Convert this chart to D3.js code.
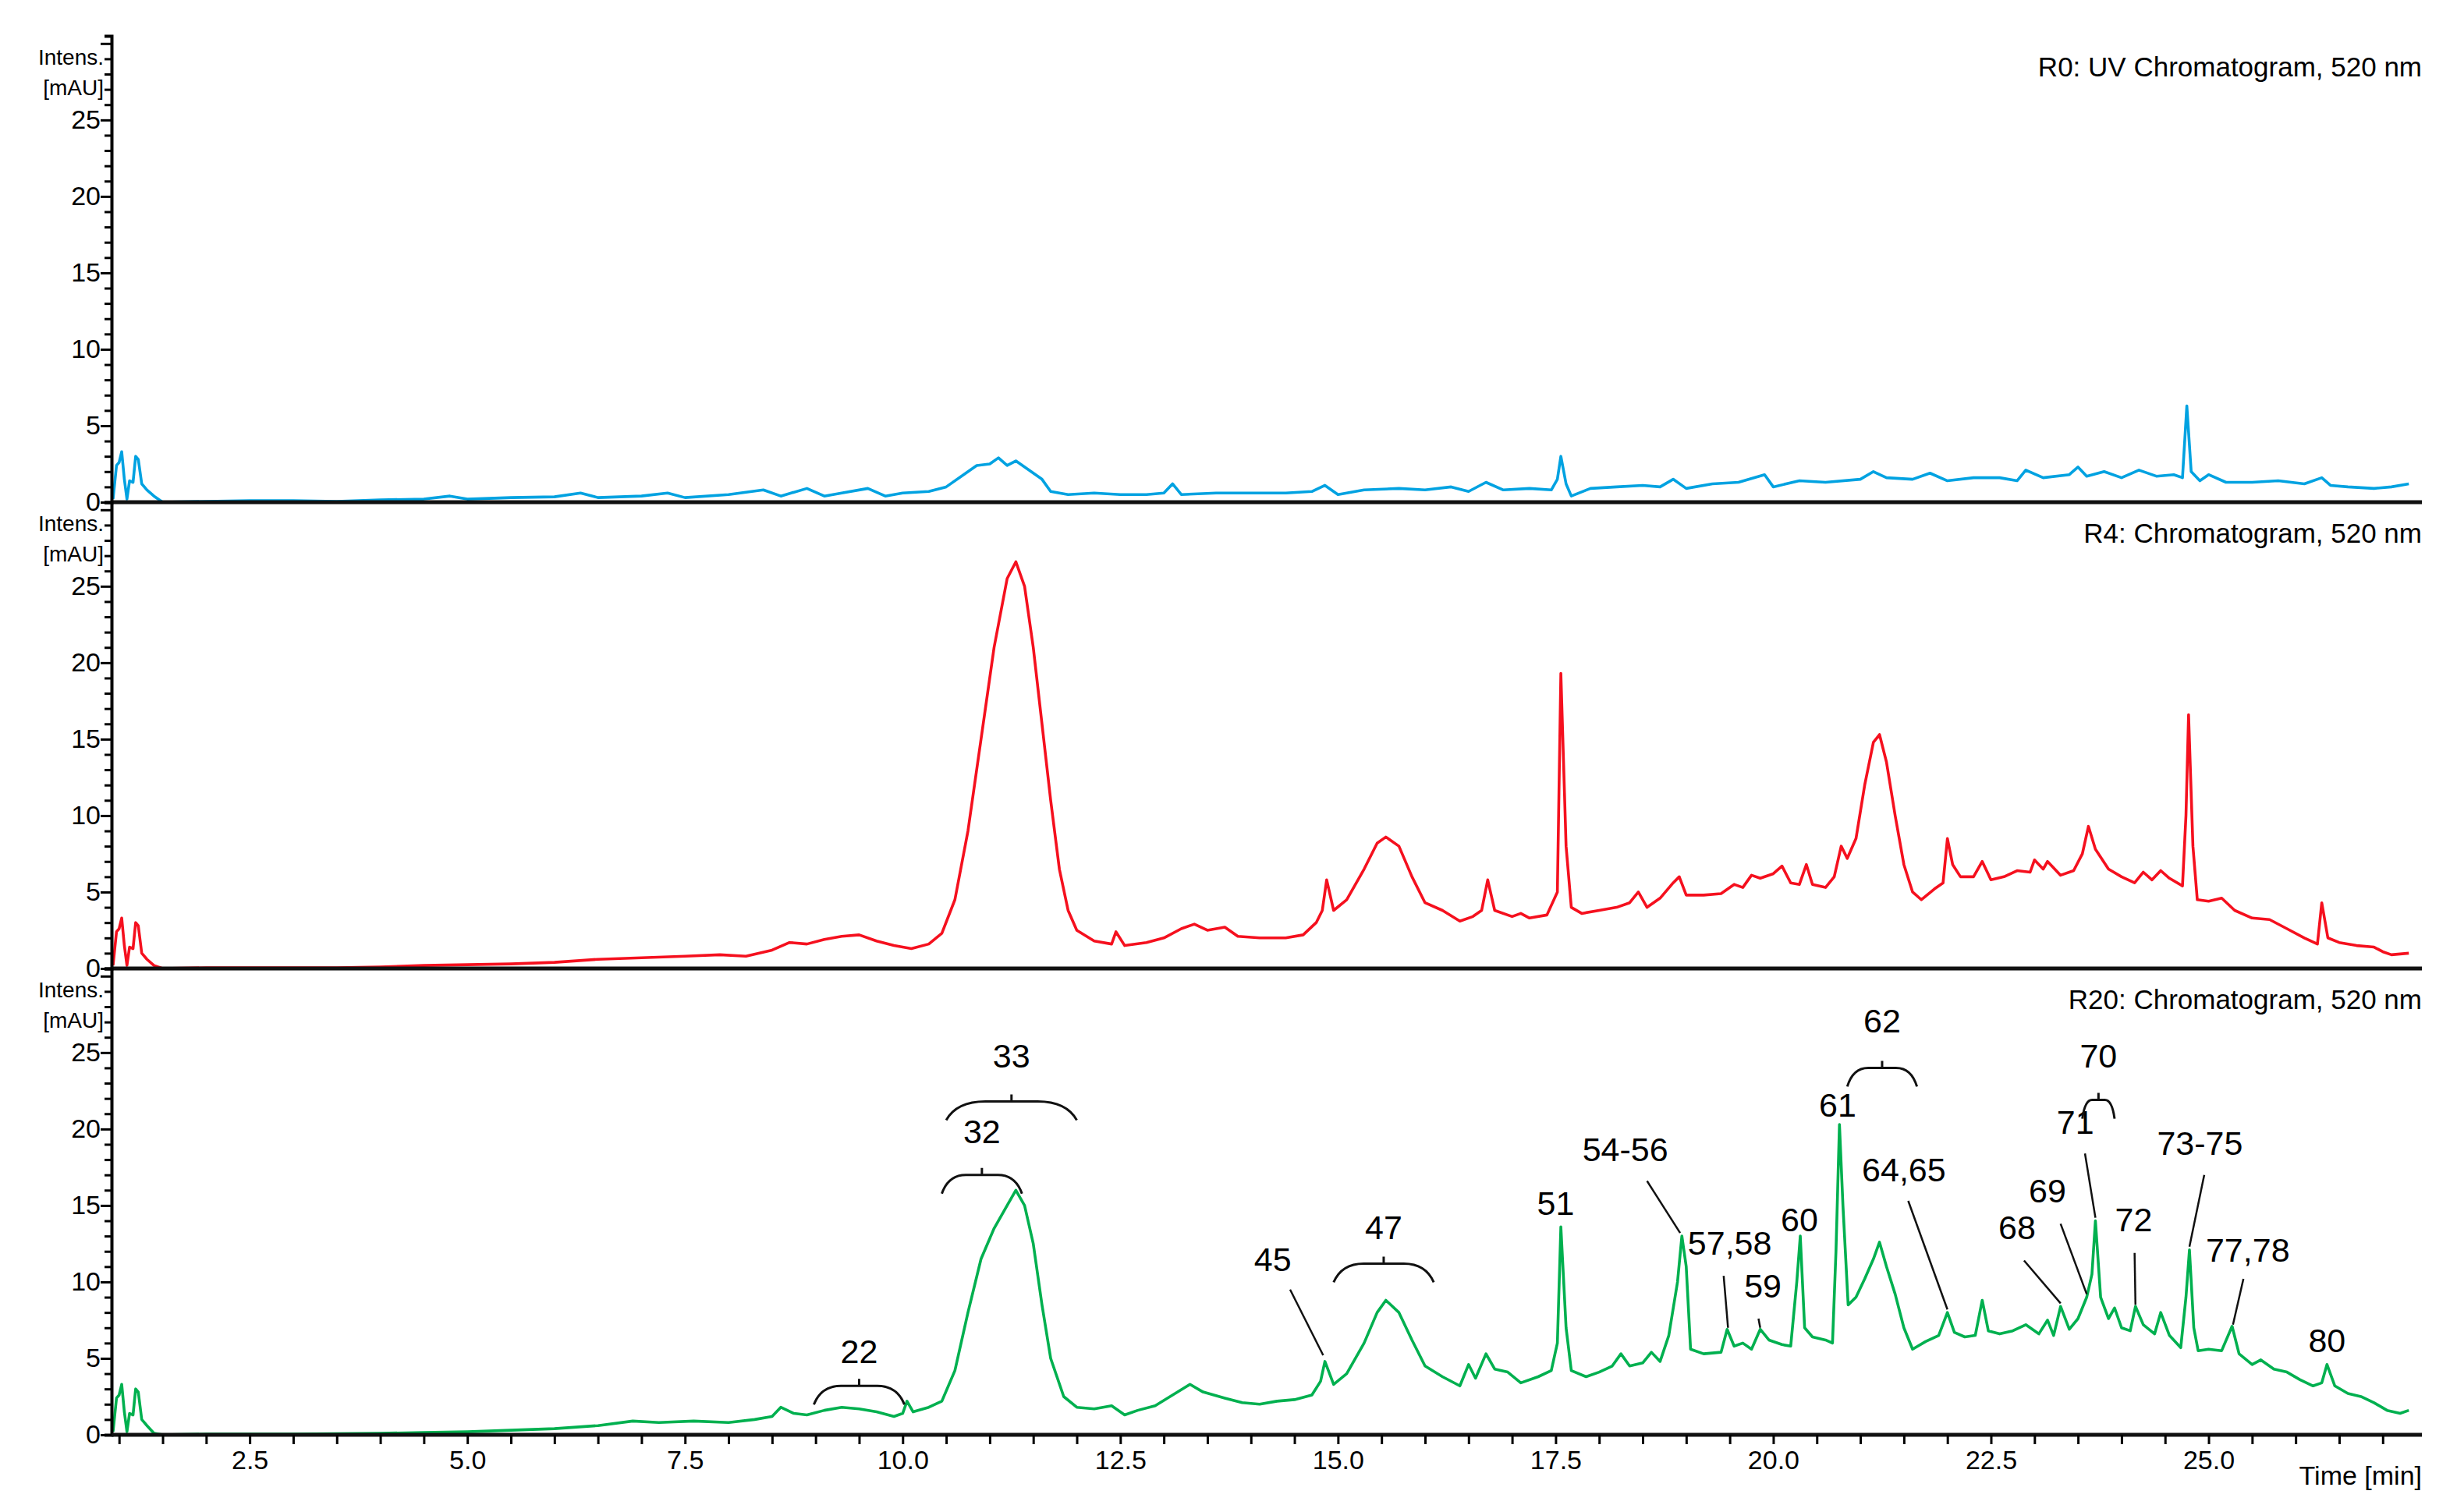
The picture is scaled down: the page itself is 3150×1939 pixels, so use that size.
<!DOCTYPE html>
<html>
<head>
<meta charset="utf-8">
<script src="https://cdn.jsdelivr.net/npm/d3@7"></script>
<style>
  body { margin: 0; background: #fff; }
  svg { font-family: 'Liberation Sans', Arial, sans-serif; }
</style>
</head>
<body>
<svg id="chart" width="3150" height="1939"></svg>
<script>
// R0 trace [time, mAU]
const r0Data = [
  [0.93, 0.2], [0.97, 2.4], [1.0, 2.6], [1.03, 3.3], [1.06, 1.5], [1.09, 0.2], [1.12, 1.4], [1.16, 1.3], [1.19, 3.0], [1.22, 2.8], [1.26, 1.2], [1.32, 0.8], [1.4, 0.4], [1.5, 0.0],
  [2.0, 0.05], [2.5, 0.1], [3.0, 0.1], [3.5, 0.05], [4.0, 0.15], [4.5, 0.2], [4.8, 0.4], [5.0, 0.2], [5.5, 0.3], [6.0, 0.35], [6.3, 0.6], [6.5, 0.3], [7.0, 0.4], [7.3, 0.6], [7.5, 0.3],
  [8.0, 0.5], [8.4, 0.8], [8.6, 0.4], [8.9, 0.9], [9.1, 0.4], [9.3, 0.6], [9.6, 0.9], [9.8, 0.4], [10.0, 0.6], [10.3, 0.7], [10.5, 1.0], [10.7, 1.8], [10.85, 2.4], [11.0, 2.5], [11.1, 2.9], [11.2, 2.4], [11.3, 2.7], [11.45, 2.1], [11.6, 1.5], [11.7, 0.7],
  [11.9, 0.5], [12.2, 0.6], [12.5, 0.5], [12.8, 0.5], [13.0, 0.6], [13.1, 1.2], [13.2, 0.5], [13.6, 0.6], [14.0, 0.6], [14.4, 0.6], [14.7, 0.7], [14.85, 1.1], [15.0, 0.5], [15.3, 0.8], [15.7, 0.9], [16.0, 0.8], [16.3, 1.0], [16.5, 0.7], [16.7, 1.3], [16.9, 0.8], [17.2, 0.9], [17.45, 0.8],
  [17.52, 1.5], [17.56, 3.0], [17.62, 1.2], [17.68, 0.4], [17.9, 0.9], [18.2, 1.0], [18.5, 1.1], [18.7, 1.0], [18.85, 1.5], [19.0, 0.9], [19.3, 1.2], [19.6, 1.3], [19.9, 1.8], [20.0, 1.0], [20.3, 1.4], [20.6, 1.3], [21.0, 1.5], [21.15, 2.0], [21.3, 1.6], [21.6, 1.5], [21.8, 1.9], [22.0, 1.4],
  [22.3, 1.6], [22.6, 1.6], [22.8, 1.4], [22.9, 2.1], [23.1, 1.6], [23.4, 1.8], [23.5, 2.3], [23.6, 1.7], [23.8, 2.0], [24.0, 1.6], [24.2, 2.1], [24.4, 1.7], [24.6, 1.8], [24.7, 1.6], [24.75, 6.3], [24.8, 2.0], [24.9, 1.4], [25.0, 1.8], [25.2, 1.3], [25.5, 1.3], [25.8, 1.4], [26.1, 1.2],
  [26.3, 1.6], [26.4, 1.1], [26.6, 1.0], [26.9, 0.9], [27.1, 1.0], [27.3, 1.2]
];

// R4 trace
const r4Data = [
  [0.93, 0.2], [0.97, 2.4], [1.0, 2.6], [1.03, 3.3], [1.06, 1.5], [1.09, 0.2], [1.12, 1.4], [1.16, 1.3], [1.19, 3.0], [1.22, 2.8], [1.26, 1.0], [1.32, 0.6], [1.4, 0.2], [1.5, 0.0],
  [2.0, 0.05], [3.5, 0.05], [4.0, 0.1], [4.5, 0.2], [5.0, 0.25], [5.5, 0.3], [6.0, 0.4], [6.5, 0.6], [7.0, 0.7], [7.5, 0.8], [7.9, 0.9], [8.2, 0.8], [8.5, 1.2], [8.7, 1.7], [8.9, 1.6], [9.1, 1.9], [9.3, 2.1], [9.5, 2.2], [9.7, 1.8], [9.9, 1.5], [10.1, 1.3], [10.3, 1.6], [10.45, 2.3],
  [10.6, 4.5], [10.75, 9.0], [10.9, 15.0], [11.05, 21.0], [11.2, 25.5], [11.3, 26.6], [11.4, 25.0], [11.5, 21.0], [11.6, 16.0], [11.7, 11.0], [11.8, 6.5], [11.9, 3.8], [12.0, 2.5], [12.2, 1.8], [12.4, 1.6], [12.45, 2.4], [12.55, 1.5], [12.8, 1.7], [13.0, 2.0], [13.2, 2.6], [13.35, 2.9], [13.5, 2.5],
  [13.7, 2.7], [13.85, 2.1], [14.1, 2.0], [14.4, 2.0], [14.6, 2.2], [14.75, 3.0], [14.82, 3.8], [14.87, 5.8], [14.95, 3.8], [15.1, 4.5], [15.3, 6.5], [15.45, 8.2], [15.55, 8.6], [15.7, 8.0], [15.85, 6.0], [16.0, 4.3], [16.2, 3.8], [16.4, 3.1], [16.55, 3.4], [16.65, 3.8],
  [16.72, 5.8], [16.8, 3.8], [17.0, 3.4], [17.1, 3.6], [17.2, 3.3], [17.4, 3.5], [17.52, 5.0], [17.56, 19.3], [17.62, 8.0], [17.68, 4.0], [17.8, 3.6], [18.0, 3.8], [18.2, 4.0], [18.35, 4.3], [18.45, 5.0], [18.55, 4.0], [18.7, 4.6], [18.85, 5.6], [18.92, 6.0], [19.0, 4.8],
  [19.2, 4.8], [19.4, 4.9], [19.55, 5.5], [19.65, 5.3], [19.75, 6.1], [19.85, 5.9], [20.0, 6.2], [20.1, 6.7], [20.2, 5.6], [20.3, 5.5], [20.38, 6.8], [20.45, 5.5], [20.6, 5.3], [20.7, 6.0], [20.78, 8.0], [20.85, 7.2], [20.95, 8.5], [21.05, 12.0], [21.15, 14.8], [21.22, 15.3], [21.3, 13.5],
  [21.4, 10.0], [21.5, 6.8], [21.6, 5.0], [21.7, 4.5], [21.85, 5.2], [21.95, 5.6], [22.0, 8.5], [22.06, 6.8], [22.15, 6.0], [22.3, 6.0], [22.4, 7.0], [22.5, 5.8], [22.65, 6.0], [22.8, 6.4], [22.95, 6.3], [23.0, 7.1], [23.1, 6.5], [23.15, 7.0], [23.3, 6.1], [23.45, 6.4], [23.55, 7.5],
  [23.62, 9.3], [23.7, 7.8], [23.85, 6.5], [24.0, 6.0], [24.15, 5.6], [24.25, 6.3], [24.35, 5.8], [24.45, 6.4], [24.55, 5.9], [24.7, 5.4], [24.74, 10.0], [24.77, 16.6], [24.82, 8.0], [24.87, 4.5], [25.0, 4.4], [25.15, 4.6], [25.3, 3.8], [25.5, 3.3], [25.7, 3.2], [25.9, 2.6], [26.1, 2.0],
  [26.25, 1.6], [26.3, 4.3], [26.37, 2.0], [26.5, 1.7], [26.7, 1.5], [26.9, 1.4], [27.0, 1.1], [27.1, 0.9], [27.3, 1.0]
];

// R20 trace
const r20Data = [
  [0.93, 0.2], [0.97, 2.4], [1.0, 2.6], [1.03, 3.3], [1.06, 1.5], [1.09, 0.2], [1.12, 1.4], [1.16, 1.3], [1.19, 3.0], [1.22, 2.8], [1.26, 1.0], [1.32, 0.6], [1.4, 0.1], [1.5, 0.0],
  [2.0, 0.05], [3.0, 0.05], [4.0, 0.1], [4.5, 0.15], [5.0, 0.2], [5.5, 0.3], [6.0, 0.4], [6.5, 0.6], [6.9, 0.9], [7.2, 0.8], [7.6, 0.9], [8.0, 0.8], [8.3, 1.0], [8.5, 1.2], [8.6, 1.8], [8.75, 1.4], [8.9, 1.3], [9.1, 1.6], [9.3, 1.8], [9.5, 1.7], [9.7, 1.5], [9.9, 1.2], [10.0, 1.4],
  [10.05, 2.2], [10.12, 1.5], [10.3, 1.8], [10.45, 2.2], [10.6, 4.2], [10.75, 8.0], [10.9, 11.5], [11.05, 13.5], [11.2, 15.0], [11.3, 16.0], [11.4, 15.0], [11.5, 12.5], [11.6, 8.5], [11.7, 5.0], [11.85, 2.5], [12.0, 1.8], [12.2, 1.7], [12.4, 1.9], [12.55, 1.3], [12.7, 1.6],
  [12.9, 1.9], [13.1, 2.6], [13.3, 3.3], [13.45, 2.8], [13.7, 2.4], [13.9, 2.1], [14.1, 2.0], [14.3, 2.2], [14.5, 2.3], [14.7, 2.6], [14.8, 3.5], [14.85, 4.8], [14.95, 3.3], [15.1, 4.0], [15.3, 6.0], [15.45, 8.0], [15.55, 8.8], [15.7, 8.0], [15.85, 6.2], [16.0, 4.5], [16.2, 3.8],
  [16.4, 3.2], [16.5, 4.6], [16.58, 3.7], [16.7, 5.3], [16.8, 4.3], [16.95, 4.1], [17.1, 3.4], [17.3, 3.8], [17.45, 4.2], [17.52, 6.0], [17.56, 13.6], [17.62, 7.0], [17.68, 4.2], [17.85, 3.8], [18.0, 4.1], [18.15, 4.5], [18.25, 5.3], [18.35, 4.5], [18.5, 4.7], [18.6, 5.4],
  [18.7, 4.8], [18.8, 6.5], [18.9, 10.0], [18.95, 13.0], [19.0, 11.0], [19.05, 5.6], [19.2, 5.3], [19.4, 5.4], [19.47, 6.9], [19.55, 5.8], [19.65, 6.0], [19.75, 5.6], [19.85, 6.9], [19.95, 6.2], [20.1, 5.9], [20.2, 5.8], [20.27, 10.0], [20.31, 13.0], [20.36, 7.0],
  [20.45, 6.4], [20.6, 6.2], [20.68, 6.0], [20.72, 12.0], [20.76, 20.3], [20.8, 15.0], [20.86, 8.5], [20.95, 9.0], [21.05, 10.2], [21.15, 11.5], [21.22, 12.6], [21.3, 11.0], [21.4, 9.2], [21.5, 7.0], [21.6, 5.6], [21.75, 6.1], [21.9, 6.5], [22.0, 8.0], [22.08, 6.7],
  [22.2, 6.4], [22.32, 6.5], [22.4, 8.8], [22.47, 6.8], [22.6, 6.6], [22.75, 6.8], [22.9, 7.2], [23.05, 6.6], [23.15, 7.5], [23.22, 6.5], [23.3, 8.4], [23.4, 6.9], [23.5, 7.6], [23.6, 9.0], [23.66, 10.5], [23.7, 14.0], [23.76, 9.0], [23.85, 7.6], [23.92, 8.3],
  [24.0, 7.0], [24.1, 6.8], [24.16, 8.4], [24.25, 7.2], [24.38, 6.6], [24.45, 8.0], [24.55, 6.5], [24.68, 5.7], [24.74, 9.0], [24.78, 12.1], [24.83, 7.0], [24.88, 5.5], [25.0, 5.6], [25.15, 5.5], [25.27, 7.1], [25.35, 5.3], [25.5, 4.6], [25.6, 4.9], [25.75, 4.3],
  [25.9, 4.1], [26.05, 3.6], [26.2, 3.2], [26.3, 3.4], [26.36, 4.6], [26.45, 3.2], [26.6, 2.7], [26.75, 2.5], [26.9, 2.1], [27.05, 1.6], [27.2, 1.4], [27.3, 1.6]
];

const panelTitles = ['R0: UV Chromatogram, 520 nm', 'R4: Chromatogram, 520 nm', 'R20: Chromatogram, 520 nm'];
const panelColors = ['#00a2e1', '#f5101e', '#00b04f'];
const xTickValues = [2.5, 5.0, 7.5, 10.0, 12.5, 15.0, 17.5, 20.0, 22.5, 25.0];
const yTickValues = [0, 5, 10, 15, 20, 25];

// peak labels on R20 with leader lines: [text, textTime, textValue, fromTime, fromValue, toTime, toValue]
const leaderLabels = [
  ['45', 14.25, 10.7, 14.45, 9.5, 14.83, 5.2],
  ['51', 17.5, 14.4, null, null, null, null],
  ['54-56', 18.3, 17.9, 18.55, 16.6, 18.93, 13.2],
  ['57,58', 19.5, 11.8, 19.43, 10.4, 19.48, 7.0],
  ['59', 19.88, 9.0, 19.83, 7.6, 19.85, 7.0],
  ['60', 20.3, 13.3, null, null, null, null],
  ['61', 20.74, 20.8, null, null, null, null],
  ['64,65', 21.5, 16.6, 21.55, 15.3, 22.0, 8.2],
  ['68', 22.8, 12.8, 22.88, 11.4, 23.3, 8.6],
  ['69', 23.15, 15.2, 23.3, 13.8, 23.6, 9.2],
  ['71', 23.47, 19.7, 23.58, 18.4, 23.7, 14.2],
  ['72', 24.14, 13.3, 24.15, 11.9, 24.16, 8.5],
  ['73-75', 24.9, 18.3, 24.95, 17.0, 24.78, 12.3],
  ['77,78', 25.45, 11.3, 25.4, 10.2, 25.28, 7.2],
  ['80', 26.36, 5.4, null, null, null, null]
];

// bracketed labels: [text, fromTime, toTime, braceValue, textValue]
const braceLabels = [
  ['22', 8.98, 10.02, 3.2, 4.7],
  ['32', 10.45, 11.37, 17.0, 19.1],
  ['33', 10.5, 12.0, 21.8, 24.0],
  ['47', 14.95, 16.1, 11.2, 12.8],
  ['62', 20.85, 21.65, 24.0, 26.3],
  ['70', 23.55, 23.92, 21.9, 24.0]
];

const traces = [r0Data, r4Data, r20Data];

const left = 143, right = 3105;
const zeros = [644, 1242, 1840];
const panelH = 598;
const yMax = 30.5;

const svg = d3.select('#chart');

const x = d3.scaleLinear().domain([0.913, 27.45]).range([left, right]);

traces.forEach((data, i) => {
  const y = d3.scaleLinear().domain([0, yMax]).range([zeros[i], zeros[i] - panelH]);
  const g = svg.append('g');

  // trace
  g.append('path')
    .datum(data)
    .attr('fill', 'none')
    .attr('stroke', panelColors[i])
    .attr('stroke-width', 3.6)
    .attr('stroke-linejoin', 'round')
    .attr('d', d3.line().x((d) => x(d[0])).y((d) => y(d[1])));

  // y axis: minor ticks every 1, labelled every 5
  const yAxis = d3.axisLeft(y)
    .tickValues(d3.range(0, 31, 1))
    .tickSize(9)
    .tickFormat((d) => (yTickValues.includes(d) ? d : ''));
  const ya = g.append('g').attr('transform', `translate(${left},0)`).call(yAxis);
  ya.select('.domain').attr('stroke-width', 4);
  ya.selectAll('.tick line').attr('stroke-width', 3)
    .attr('x2', (d) => (d % 5 === 0 ? -14 : -9));
  ya.selectAll('.tick text').attr('font-size', 34).attr('x', -14).attr('font-family', 'Liberation Sans, Arial');

  g.append('text').attr('x', left - 10).attr('y', y(28.6)).attr('text-anchor', 'end')
    .attr('font-size', 28).text('Intens.');
  g.append('text').attr('x', left - 10).attr('y', y(26.6)).attr('text-anchor', 'end')
    .attr('font-size', 28).text('[mAU]');

  // baseline
  g.append('line').attr('x1', left).attr('x2', right).attr('y1', zeros[i]).attr('y2', zeros[i])
    .attr('stroke', '#111').attr('stroke-width', 5);

  g.append('text').attr('x', right).attr('y', zeros[i] - panelH + 52).attr('text-anchor', 'end')
    .attr('font-size', 35).text(panelTitles[i]);

  if (i === 2) {
    const xAxis = d3.axisBottom(x)
      .tickValues(d3.range(1, 27.01, 0.5))
      .tickSize(12)
      .tickFormat((d) => (xTickValues.includes(d) ? d.toFixed(1) : ''));
    const xa = g.append('g').attr('transform', `translate(0,${zeros[i]})`).call(xAxis);
    xa.select('.domain').remove();
    xa.selectAll('.tick line').attr('stroke-width', 3);
    xa.selectAll('.tick text').attr('font-size', 34).attr('y', 20).attr('font-family', 'Liberation Sans, Arial');
    g.append('text').attr('x', right).attr('y', zeros[i] + 64).attr('text-anchor', 'end')
      .attr('font-size', 34).text('Time [min]');

    // leader labels
    leaderLabels.forEach(([t, tx, ty, fx, fy, lx, ly]) => {
      g.append('text').attr('x', x(tx)).attr('y', y(ty)).attr('text-anchor', 'middle')
        .attr('font-size', 43).text(t);
      if (fx !== null) {
        g.append('line').attr('x1', x(fx)).attr('y1', y(fy)).attr('x2', x(lx)).attr('y2', y(ly))
          .attr('stroke', '#111').attr('stroke-width', 2.5);
      }
    });

    // braces
    braceLabels.forEach(([t, t1, t2, bv, tv]) => {
      const x1 = x(t1), x2 = x(t2), xm = (x1 + x2) / 2, yb = y(bv);
      const h = 24, w = x2 - x1;
      g.append('path')
        .attr('fill', 'none').attr('stroke', '#111').attr('stroke-width', 3)
        .attr('d', `M${x1},${yb + h} Q${x1 + w * 0.08},${yb} ${x1 + w * 0.3},${yb} L${x2 - w * 0.3},${yb} Q${x2 - w * 0.08},${yb} ${x2},${yb + h} M${xm},${yb} L${xm},${yb - 9}`);
      g.append('text').attr('x', xm).attr('y', y(tv)).attr('text-anchor', 'middle')
        .attr('font-size', 43).text(t);
    });
  }
});
</script>
</body>
</html>
